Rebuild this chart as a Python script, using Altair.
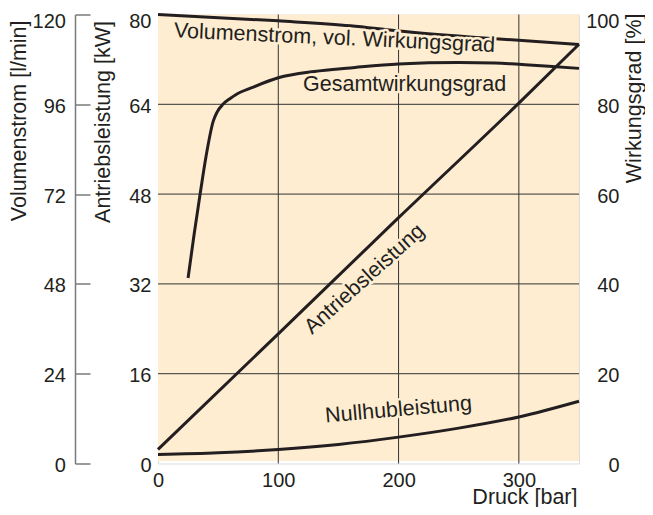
import altair as alt
import pandas as pd

# ---- data ----
druck_vol = [0, 100, 160, 200, 268, 350]
volumenstrom = [120, 118.3, 117.0, 115.6, 113.8, 112.0]          # l/min

druck_ges = [25, 30, 35, 40, 46, 49, 54, 60, 65, 78, 100, 130, 160, 200, 250, 280, 300, 325, 350]
gesamt = [41.3, 51, 60, 68.5, 76.3, 78.2, 80, 81.3, 82.2, 83.7, 85.9, 87.3, 88.1, 89.0, 89.3, 89.2, 88.9, 88.5, 88.0]  # %

druck_antr = [0, 100, 200, 300, 350]
antrieb = [2.5, 23.1, 43.8, 64.2, 74.7]                          # kW

druck_null = [0, 50, 100, 150, 200, 250, 300, 350]
nullhub = [1.6, 1.9, 2.5, 3.4, 4.7, 6.3, 8.3, 11.1]              # kW

label_text = ["Volumenstrom, vol. Wirkungsgrad", "Gesamtwirkungsgrad", "Antriebsleistung", "Nullhubleistung"]
label_druck = [146.7, 205, 172, 200]
label_kw = [75.7, 67.4, 32.8, 9.5]
label_angle = [2.6, 0, 318, 355]

x_ticks = [0, 100, 200, 300]
kw_ticks = [0, 16, 32, 48, 64, 80]
vol_ticks = [0, 24, 48, 72, 96, 120]
eff_ticks = [0, 20, 40, 60, 80, 100]

x_domain = [0, 350]
kw_domain = [0, 80]

# ---- styling ----
INK = "#231F20"
BG = "#FEEDD1"
GRID = "#333333"
FONT = "Liberation Sans"
LW = 3
TFS = 21.5


def top_offset(top_value):
    return {"condition": {"test": f"datum.value == {top_value}", "value": 7}, "value": 2}


df_vol = pd.DataFrame({"druck": druck_vol, "v": volumenstrom})
df_ges = pd.DataFrame({"druck": druck_ges, "v": gesamt})
df_kw = pd.concat([
    pd.DataFrame({"druck": druck_antr, "v": antrieb, "s": "Antriebsleistung"}),
    pd.DataFrame({"druck": druck_null, "v": nullhub, "s": "Nullhubleistung"}),
])
df_lab = pd.DataFrame({"t": label_text, "druck": label_druck, "v": label_kw, "a": label_angle})
df_bg = pd.DataFrame({"x0": [x_domain[0]], "x1": [x_domain[1]],
                      "y0": [kw_domain[0] + 0.45], "y1": [kw_domain[1]]})
df_xgrid = pd.DataFrame({"druck": x_ticks[1:]})
df_ygrid = pd.DataFrame({"v": kw_ticks[1:-1]})

x_scale = alt.Scale(domain=x_domain, nice=False, zero=False)
x_axis = alt.Axis(
    values=x_ticks, grid=False,
    domain=False, ticks=False, labelFlush=False,
    labelFontSize=20, labelPadding=7, labelColor=INK, labelFont=FONT,
    title="Druck [bar]", titleFontSize=TFS, titleFontWeight="normal", titleColor=INK,
    titleFont=FONT, titleAlign="right", titleBaseline="alphabetic", titleX=419, titleY=39.5,
    titleAngle=0,
)
x_enc = alt.X("druck:Q", scale=x_scale, axis=x_axis)

kw_axis = alt.Axis(
    orient="left", values=kw_ticks, grid=False,
    domain=False, ticks=False, labelFontSize=20, labelPadding=7, labelOffset=top_offset(80),
    labelColor=INK, labelFont=FONT,
    title="Antriebsleistung [kW]", titleFontSize=TFS, titleFontWeight="normal", titleColor=INK,
    titleFont=FONT, titleAngle=270, titleAlign="right", titleBaseline="middle",
    titleX=-55, titleY=6,
)
kw_scale = alt.Scale(domain=kw_domain, nice=False, zero=False)

bg_rect = alt.Chart(df_bg).mark_rect(fill=BG, strokeWidth=0).encode(
    x=alt.X("x0:Q", scale=x_scale, axis=x_axis), x2="x1:Q",
    y=alt.Y("y0:Q", scale=kw_scale, axis=kw_axis), y2="y1:Q",
)
xgrid = alt.Chart(df_xgrid).mark_rule(color=GRID, strokeWidth=1).encode(x=x_enc)
ygrid = alt.Chart(df_ygrid).mark_rule(color=GRID, strokeWidth=1).encode(
    y=alt.Y("v:Q", scale=kw_scale, axis=kw_axis)
)
kw_lines = alt.Chart(df_kw).mark_line(color=INK, strokeWidth=LW, interpolate="monotone").encode(
    x=x_enc,
    y=alt.Y("v:Q", scale=kw_scale, axis=kw_axis),
    detail="s:N",
)
kw_layer = alt.layer(bg_rect, xgrid, ygrid, kw_lines)

vol_line = alt.Chart(df_vol).mark_line(color=INK, strokeWidth=LW, interpolate="monotone").encode(
    x=x_enc,
    y=alt.Y(
        "v:Q",
        scale=alt.Scale(domain=[0, 120], nice=False, zero=False),
        axis=alt.Axis(
            orient="left", offset=83, values=vol_ticks, grid=False,
            domain=True, domainColor="#7a7a7a", domainWidth=1.5,
            ticks=True, tickColor="#7a7a7a", tickWidth=1.5, tickSize={"expr": "-15"},
            labelFontSize=20, labelPadding=24.6, labelOffset=top_offset(120),
            labelColor=INK, labelFont=FONT,
            title="Volumenstrom [l/min]", titleFontSize=TFS, titleFontWeight="normal",
            titleColor=INK, titleFont=FONT, titleAngle=270, titleAlign="right",
            titleBaseline="middle", titleX=-56, titleY=5.5,
        ),
    ),
)

eff_line = alt.Chart(df_ges).mark_line(color=INK, strokeWidth=LW, interpolate="monotone").encode(
    x=x_enc,
    y=alt.Y(
        "v:Q",
        scale=alt.Scale(domain=[0, 100], nice=False, zero=False),
        axis=alt.Axis(
            orient="right", values=eff_ticks, grid=False, domain=False, ticks=False,
            labelFontSize=20, labelPadding=40, labelOffset=top_offset(100), labelAlign="right",
            labelColor=INK, labelFont=FONT,
            title="Wirkungsgrad [%]", titleFontSize=TFS, titleFontWeight="normal",
            titleColor=INK, titleFont=FONT, titleAngle=270, titleAlign="right",
            titleBaseline="middle", titleX=55, titleY=-1.5,
        ),
    ),
)

lab_y = alt.Y("v:Q", scale=kw_scale, axis=None)
lab_halo = alt.Chart(df_lab).mark_text(
    font=FONT, fontSize=TFS, align="center", baseline="middle",
    stroke=BG, strokeWidth=5, strokeJoin="round", fill=BG,
).encode(x=x_enc, y=lab_y, text="t:N", angle=alt.Angle("a:Q", scale=None))

lab_text = alt.Chart(df_lab).mark_text(
    font=FONT, fontSize=TFS, align="center", baseline="middle", fill=INK,
).encode(x=x_enc, y=lab_y, text="t:N", angle=alt.Angle("a:Q", scale=None))

chart = alt.layer(kw_layer, vol_line, eff_line, lab_halo, lab_text).resolve_scale(
    y="independent"
).properties(
    width=421, height=449,
    autosize=alt.AutoSizeParams(type="none"),
    padding={"left": 150, "top": 6.5, "right": 66, "bottom": 43.5},
).configure_view(
    stroke="black", strokeWidth=2.5,
).configure(background="white")

chart.save("out.html", embed_options={"renderer": "svg", "actions": False})
